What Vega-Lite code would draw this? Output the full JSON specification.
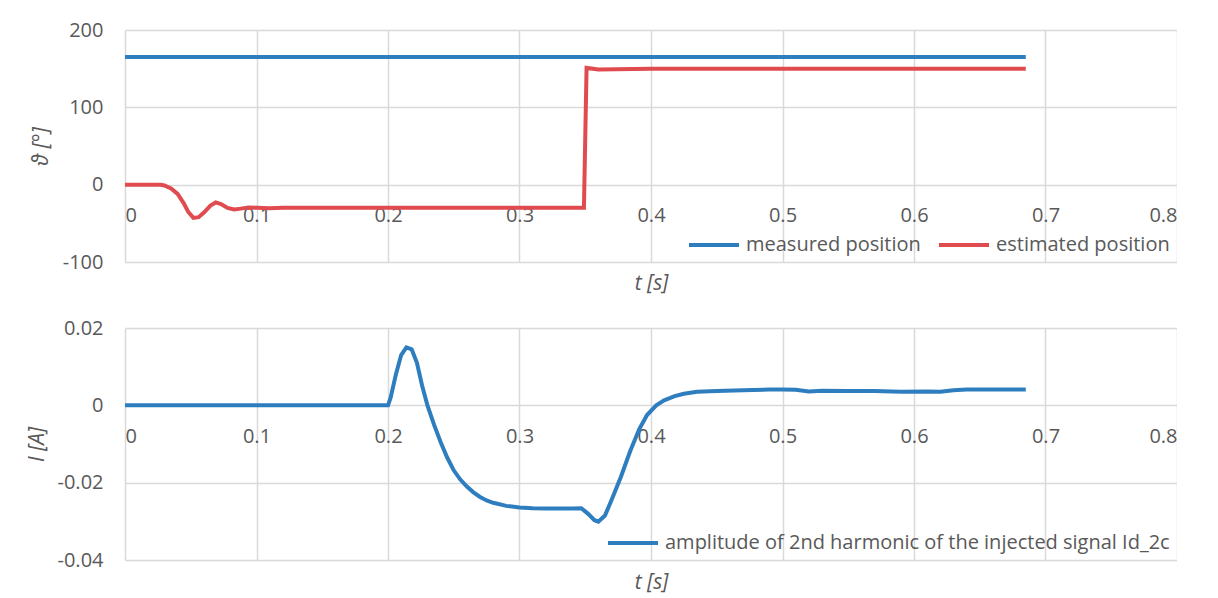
{
  "$schema": "https://vega.github.io/schema/vega-lite/v6.json",
  "background": "white",
  "padding": {"left": 26, "top": 20, "right": 0, "bottom": 20},
  "spacing": 24,
  "datasets": {
    "theta": [
      {"t": 0, "value": 165, "series": "measured position"},
      {"t": 0.1, "value": 165, "series": "measured position"},
      {"t": 0.2, "value": 165, "series": "measured position"},
      {"t": 0.3, "value": 165, "series": "measured position"},
      {"t": 0.4, "value": 165, "series": "measured position"},
      {"t": 0.5, "value": 165, "series": "measured position"},
      {"t": 0.6, "value": 165, "series": "measured position"},
      {"t": 0.685, "value": 165, "series": "measured position"},
      {"t": 0, "value": 0, "series": "estimated position"},
      {"t": 0.01, "value": 0, "series": "estimated position"},
      {"t": 0.02, "value": 0, "series": "estimated position"},
      {"t": 0.027, "value": 0, "series": "estimated position"},
      {"t": 0.03, "value": -1, "series": "estimated position"},
      {"t": 0.035, "value": -5, "series": "estimated position"},
      {"t": 0.04, "value": -12, "series": "estimated position"},
      {"t": 0.045, "value": -25, "series": "estimated position"},
      {"t": 0.048, "value": -35, "series": "estimated position"},
      {"t": 0.052, "value": -43, "series": "estimated position"},
      {"t": 0.056, "value": -42, "series": "estimated position"},
      {"t": 0.06, "value": -36, "series": "estimated position"},
      {"t": 0.065, "value": -27, "series": "estimated position"},
      {"t": 0.069, "value": -23, "series": "estimated position"},
      {"t": 0.073, "value": -25, "series": "estimated position"},
      {"t": 0.078, "value": -30, "series": "estimated position"},
      {"t": 0.083, "value": -32, "series": "estimated position"},
      {"t": 0.088, "value": -31, "series": "estimated position"},
      {"t": 0.094, "value": -29.5, "series": "estimated position"},
      {"t": 0.1, "value": -30, "series": "estimated position"},
      {"t": 0.11, "value": -30.5, "series": "estimated position"},
      {"t": 0.12, "value": -30, "series": "estimated position"},
      {"t": 0.15, "value": -30, "series": "estimated position"},
      {"t": 0.2, "value": -30, "series": "estimated position"},
      {"t": 0.25, "value": -30, "series": "estimated position"},
      {"t": 0.3, "value": -30, "series": "estimated position"},
      {"t": 0.349, "value": -30, "series": "estimated position"},
      {"t": 0.351, "value": 151, "series": "estimated position"},
      {"t": 0.36, "value": 149, "series": "estimated position"},
      {"t": 0.4, "value": 150, "series": "estimated position"},
      {"t": 0.5, "value": 150, "series": "estimated position"},
      {"t": 0.6, "value": 150, "series": "estimated position"},
      {"t": 0.685, "value": 150, "series": "estimated position"}
    ],
    "current": [
      {"t": 0, "value": 0},
      {"t": 0.1, "value": 0},
      {"t": 0.2, "value": 0},
      {"t": 0.202, "value": 0.002},
      {"t": 0.206, "value": 0.008},
      {"t": 0.21, "value": 0.013},
      {"t": 0.214, "value": 0.015},
      {"t": 0.218, "value": 0.0145},
      {"t": 0.222, "value": 0.011},
      {"t": 0.226, "value": 0.005},
      {"t": 0.23, "value": 0},
      {"t": 0.235, "value": -0.005},
      {"t": 0.24, "value": -0.0095},
      {"t": 0.245, "value": -0.0135},
      {"t": 0.25, "value": -0.0168},
      {"t": 0.255, "value": -0.0192},
      {"t": 0.26, "value": -0.021},
      {"t": 0.265, "value": -0.0225},
      {"t": 0.27, "value": -0.0237},
      {"t": 0.275, "value": -0.0246},
      {"t": 0.28, "value": -0.0252},
      {"t": 0.29, "value": -0.026},
      {"t": 0.3, "value": -0.0264},
      {"t": 0.31, "value": -0.0266},
      {"t": 0.32, "value": -0.0267},
      {"t": 0.33, "value": -0.0267},
      {"t": 0.34, "value": -0.0267},
      {"t": 0.347, "value": -0.0266},
      {"t": 0.352, "value": -0.028},
      {"t": 0.357, "value": -0.0297},
      {"t": 0.36, "value": -0.0301},
      {"t": 0.365, "value": -0.0285},
      {"t": 0.37, "value": -0.0245},
      {"t": 0.377, "value": -0.0186},
      {"t": 0.384, "value": -0.012},
      {"t": 0.391, "value": -0.0062},
      {"t": 0.397, "value": -0.0025},
      {"t": 0.404, "value": 0},
      {"t": 0.41, "value": 0.0013},
      {"t": 0.418, "value": 0.0024},
      {"t": 0.425, "value": 0.003},
      {"t": 0.435, "value": 0.0035},
      {"t": 0.45, "value": 0.0037},
      {"t": 0.47, "value": 0.0039},
      {"t": 0.49, "value": 0.0041},
      {"t": 0.5, "value": 0.0041},
      {"t": 0.51, "value": 0.004},
      {"t": 0.52, "value": 0.0036},
      {"t": 0.53, "value": 0.0038},
      {"t": 0.55, "value": 0.0037},
      {"t": 0.57, "value": 0.0037},
      {"t": 0.59, "value": 0.0035},
      {"t": 0.61, "value": 0.0036},
      {"t": 0.62, "value": 0.0035},
      {"t": 0.63, "value": 0.0039},
      {"t": 0.64, "value": 0.0041},
      {"t": 0.66, "value": 0.0041},
      {"t": 0.685, "value": 0.0041}
    ]
  },
  "vconcat": [
    {
      "width": 1052,
      "height": 232,
      "data": {"name": "theta"},
      "mark": {"type": "line", "strokeWidth": 4},
      "encoding": {
        "x": {
          "field": "t", "type": "quantitative",
          "scale": {"domain": [0, 0.8], "nice": false},
          "axis": {"values": [0, 0.1, 0.2, 0.3, 0.4, 0.5, 0.6, 0.7, 0.8], "format": ".1~f", "offset": -77.33, "title": "t [s]", "titleY": 88, "labelPadding": 21}
        },
        "y": {
          "field": "value", "type": "quantitative",
          "scale": {"domain": [-100, 200], "nice": false},
          "axis": {"values": [-100, 0, 100, 200], "title": "ϑ [°]", "labelPadding": 22, "titlePadding": 11, "labelExpr": "replace(datum.label, '\u2212', '-')"}
        },
        "color": {
          "field": "series", "type": "nominal",
          "scale": {"domain": ["measured position", "estimated position"], "range": ["#2e7ebf", "#e04b4f"]},
          "legend": {"title": null}
        }
      }
    },
    {
      "width": 1052,
      "height": 232,
      "data": {"name": "current"},
      "transform": [{"calculate": "'amplitude of 2nd harmonic of the injected signal Id_2c'", "as": "series"}],
      "mark": {"type": "line", "strokeWidth": 4},
      "encoding": {
        "x": {
          "field": "t", "type": "quantitative",
          "scale": {"domain": [0, 0.8], "nice": false},
          "axis": {"values": [0, 0.1, 0.2, 0.3, 0.4, 0.5, 0.6, 0.7, 0.8], "format": ".1~f", "offset": -154.67, "title": "t [s]", "titleY": 166, "labelPadding": 21}
        },
        "y": {
          "field": "value", "type": "quantitative",
          "scale": {"domain": [-0.04, 0.02], "nice": false},
          "axis": {"values": [-0.04, -0.02, 0, 0.02], "format": "~g", "title": "I [A]", "labelPadding": 22, "titlePadding": 10, "labelExpr": "replace(datum.label, '\u2212', '-')"}
        },
        "color": {
          "field": "series", "type": "nominal",
          "scale": {"domain": ["amplitude of 2nd harmonic of the injected signal Id_2c"], "range": ["#2e7ebf"]},
          "legend": {"title": null}
        }
      }
    }
  ],
  "resolve": {"scale": {"color": "independent"}, "legend": {"color": "independent"}},
  "config": {
    "font": "Open Sans",
    "view": {"stroke": null},
    "axis": {
      "labelColor": "#595959", "labelFontSize": 20, "titleColor": "#595959", "titleFontSize": 21,
      "titleFontStyle": "italic", "titleFontWeight": "normal",
      "gridColor": "#d9d9d9", "gridWidth": 1.5, "domain": false, "ticks": false, "tickSize": 0
    },
    "legend": {
      "orient": "bottom-right", "direction": "horizontal", "symbolType": "stroke", "symbolSize": 2500,
      "symbolStrokeWidth": 4, "labelFontSize": 20, "labelColor": "#595959", "offset": 7, "padding": 0,
      "columnPadding": 10, "labelOffset": 5, "labelLimit": 0
    }
  }
}
